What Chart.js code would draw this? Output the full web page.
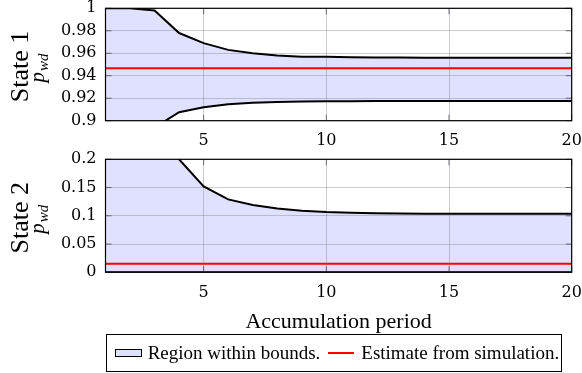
<!DOCTYPE html>
<html>
<head>
<meta charset="utf-8">
<script src="https://cdn.jsdelivr.net/npm/chart.js@4"></script>
<style>
  body { margin: 0; background: #fff; }
  #wrap { position: relative; width: 582px; height: 373px; overflow: hidden; }
  #top { position: absolute; left: 0; top: -11px; width: 582px; height: 161px; }
  #bottom { position: absolute; left: 0; top: 140px; width: 582px; height: 194px; }
  #legend {
    position: absolute; left: 105.7px; top: 334px; width: 456px; height: 37.7px;
    box-sizing: border-box; border: 1px solid #000;
    font-family: "Liberation Serif", serif; font-size: 19px; color: #000;
    display: flex; align-items: center; white-space: nowrap;
  }
  #legend .patch { display: inline-block; width: 25px; height: 6px; border: 1.5px solid #000; background: #e0e0ff; margin: 0 6px 0 8px; }
  #legend .line { display: inline-block; width: 26px; height: 2px; background: #ff0000; margin: 0 7px 0 8px; }
</style>
</head>
<body>
<div id="wrap">
  <div id="top"><canvas id="chartTop"></canvas></div>
  <div id="bottom"><canvas id="chartBottom"></canvas></div>
  <div id="legend"><span class="patch"></span>Region within bounds.<span class="line"></span>Estimate from simulation.</div>
</div>
<script>
"use strict";

const periods = [1, 2, 3, 4, 5, 6, 7, 8, 9, 10, 11, 12, 13, 14, 15, 16, 17, 18, 19, 20];
const xTicks = [5, 10, 15, 20];

// State 1
const s1Upper = [1, 1, 0.998, 0.978, 0.969, 0.963, 0.960, 0.958, 0.957, 0.9568, 0.9565, 0.9563, 0.9562, 0.9561, 0.956, 0.956, 0.956, 0.956, 0.956, 0.956];
const s1Lower = [0.80, 0.86, 0.894, 0.9075, 0.912, 0.9146, 0.916, 0.9167, 0.9171, 0.9173, 0.9174, 0.9175, 0.9175, 0.9175, 0.9175, 0.9175, 0.9175, 0.9175, 0.9175, 0.9175];
const s1Estimate = [0.9466, 0.9466, 0.9466, 0.9466, 0.9466, 0.9466, 0.9466, 0.9466, 0.9466, 0.9466, 0.9466, 0.9466, 0.9466, 0.9466, 0.9466, 0.9466, 0.9466, 0.9466, 0.9466, 0.9466];

// State 2
const s2Upper = [0.45, 0.33, 0.26, 0.2, 0.152, 0.129, 0.119, 0.113, 0.109, 0.1066, 0.1052, 0.1045, 0.104, 0.1038, 0.1036, 0.1035, 0.1035, 0.1035, 0.1035, 0.1035];
const s2Lower = [0, 0, 0, 0, 0, 0, 0, 0, 0, 0, 0, 0, 0, 0, 0, 0, 0, 0, 0, 0];
const s2Estimate = [0.0152, 0.0152, 0.0152, 0.0152, 0.0152, 0.0152, 0.0152, 0.0152, 0.0152, 0.0152, 0.0152, 0.0152, 0.0152, 0.0152, 0.0152, 0.0152, 0.0152, 0.0152, 0.0152, 0.0152];

const tickFont = { family: "DejaVu Serif", size: 16 };
const gridColor = "rgba(120,120,130,0.38)";

function pts(ys) {
    return periods.map(function (x, i) { return { x: x, y: ys[i] }; });
}

// frame, small inner ticks, rotated labels "State n" and p_wd
const framePlugin = {
    id: "frame",
    afterDraw: function (chart) {
        const ctx = chart.ctx;
        const a = chart.chartArea;
        const xs = chart.scales.x;
        const ys = chart.scales.y;
        ctx.save();
        ctx.strokeStyle = "rgba(70,70,80,0.75)";
        ctx.lineWidth = 1;
        ys.ticks.forEach(function (t) {
            const py = ys.getPixelForValue(t.value);
            ctx.beginPath();
            ctx.moveTo(a.left, py); ctx.lineTo(a.left + 6, py);
            ctx.moveTo(a.right, py); ctx.lineTo(a.right - 6, py);
            ctx.stroke();
        });
        xs.ticks.forEach(function (t) {
            const px = xs.getPixelForValue(t.value);
            ctx.beginPath();
            ctx.moveTo(px, a.bottom); ctx.lineTo(px, a.bottom - 6);
            ctx.moveTo(px, a.top); ctx.lineTo(px, a.top + 6);
            ctx.stroke();
        });
        ctx.strokeStyle = "#000";
        ctx.lineWidth = 1.2;
        ctx.strokeRect(a.left, a.top, a.right - a.left, a.bottom - a.top);

        const cy = (a.top + a.bottom) / 2 + 2;
        ctx.fillStyle = "#000";
        ctx.translate(28, cy);
        ctx.rotate(-Math.PI / 2);
        ctx.textAlign = "center";
        ctx.textBaseline = "alphabetic";
        ctx.font = "26px 'Liberation Serif'";
        ctx.fillText(chart.options.stateLabel, 0, 0);
        ctx.restore();

        ctx.save();
        ctx.fillStyle = "#000";
        ctx.translate(44, cy + 2);
        ctx.rotate(-Math.PI / 2);
        ctx.textBaseline = "alphabetic";
        ctx.font = "italic 21px 'Liberation Serif'";
        const pw = ctx.measureText("p").width;
        ctx.font = "italic 15px 'Liberation Serif'";
        const sw = ctx.measureText("wd").width;
        const start = -(pw + sw) / 2;
        ctx.font = "italic 21px 'Liberation Serif'";
        ctx.fillText("p", start, 0);
        ctx.font = "italic 15px 'Liberation Serif'";
        ctx.fillText("wd", start + pw + 1, 4);
        ctx.restore();
    }
};

function fmt(v) {
    return String(Math.round(v * 1000) / 1000);
}

function makeChart(canvasId, stateLabel, upper, lower, estimate, yMin, yMax, yStep, xHeight, showTitle) {
    return new Chart(document.getElementById(canvasId), {
        type: "line",
        data: {
            datasets: [
                {
                    data: pts(upper),
                    borderColor: "#000",
                    borderWidth: 2,
                    pointRadius: 0,
                    fill: "+1",
                    backgroundColor: "rgba(0,0,255,0.12)",
                    tension: 0
                },
                {
                    data: pts(lower),
                    borderColor: "#000",
                    borderWidth: 2,
                    pointRadius: 0,
                    fill: false,
                    tension: 0
                },
                {
                    data: pts(estimate),
                    borderColor: "#ff0000",
                    borderWidth: 2,
                    pointRadius: 0,
                    fill: false
                }
            ]
        },
        options: {
            stateLabel: stateLabel,
            responsive: true,
            maintainAspectRatio: false,
            animation: false,
            layout: { padding: { left: 0, right: 0, top: 19.3, bottom: 0 } },
            plugins: {
                legend: { display: false },
                tooltip: { enabled: false },
                filler: { drawTime: "beforeDraw" }
            },
            scales: {
                x: {
                    type: "linear",
                    min: 1,
                    max: 20,
                    afterBuildTicks: function (scale) {
                        scale.ticks = xTicks.map(function (v) { return { value: v }; });
                    },
                    afterFit: function (scale) {
                        scale.height = xHeight;
                        scale.paddingLeft = 0;
                        scale.paddingRight = 10.3;
                    },
                    grid: { color: gridColor, lineWidth: 1, drawTicks: false },
                    border: { display: false },
                    ticks: { font: tickFont, color: "#000", padding: 11, maxRotation: 0, autoSkip: false, callback: fmt },
                    title: {
                        display: showTitle,
                        text: "Accumulation period",
                        color: "#000",
                        font: { family: "Liberation Serif", size: 22, lineHeight: 1 },
                        padding: { top: 0, bottom: 1 }
                    }
                },
                y: {
                    min: yMin,
                    max: yMax,
                    afterFit: function (scale) { scale.width = 105.5; },
                    grid: { color: gridColor, lineWidth: 1, drawTicks: false },
                    border: { display: false },
                    ticks: { font: tickFont, color: "#000", padding: 9, stepSize: yStep, autoSkip: false, callback: fmt }
                }
            }
        },
        plugins: [framePlugin]
    });
}

makeChart("chartTop", "State 1", s1Upper, s1Lower, s1Estimate, 0.9, 1, 0.02, 29.3, false);
makeChart("chartBottom", "State 2", s2Upper, s2Lower, s2Estimate, 0, 0.2, 0.05, 61.7, true);
</script>
</body>
</html>
